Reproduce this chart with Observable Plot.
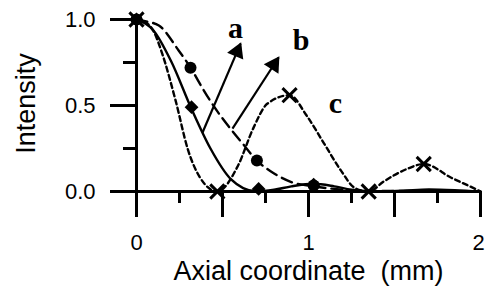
<!DOCTYPE html>
<html><head><meta charset="utf-8">
<script src="https://cdn.jsdelivr.net/npm/d3@7"></script>
<script src="https://cdn.jsdelivr.net/npm/@observablehq/plot@0.6"></script>
<style>
html,body{margin:0;padding:0;background:#fff}svg{display:block}
</style>
</head><body><div id="chart"></div>
<script>
// Curve a (long dashed, circles)
const aX = [0, 0.05, 0.13, 0.245, 0.314, 0.39, 0.44, 0.55, 0.62, 0.70, 0.80, 0.90, 1.03, 1.15, 1.30, 1.50, 1.75, 2.0];
const aY = [1, 0.99, 0.965, 0.82, 0.72, 0.59, 0.51, 0.36, 0.275, 0.18, 0.105, 0.055, 0.03, 0.015, 0.005, 0.003, 0.002, 0];
const aMarkX = [0, 0.314, 0.70, 1.03];
const aMarkY = [1, 0.72, 0.18, 0.035];
// Curve b (solid, diamonds)
const bX = [0, 0.1, 0.2, 0.32, 0.43, 0.55, 0.62, 0.70, 0.80, 0.90, 1.03, 1.15, 1.25, 1.40, 1.55, 1.70, 1.85, 2.0];
const bY = [1, 0.935, 0.76, 0.48, 0.25, 0.07, 0.02, 0.0, 0.01, 0.03, 0.045, 0.03, 0.01, 0.0, 0.005, 0.012, 0.008, 0];
const bMarkX = [0, 0.32, 0.71, 1.03];
const bMarkY = [1, 0.49, 0.015, 0.04];
// Curve c (short dashed, crosses)
const cX = [0, 0.05, 0.10, 0.15, 0.227, 0.30, 0.37, 0.47, 0.59, 0.68, 0.76, 0.89, 0.99, 1.09, 1.19, 1.27, 1.35, 1.44, 1.57, 1.67, 1.83, 1.98, 2.0];
const cY = [1, 0.985, 0.93, 0.80, 0.53, 0.24, 0.08, 0.0, 0.15, 0.37, 0.51, 0.56, 0.44, 0.28, 0.12, 0.02, 0.0, 0.06, 0.13, 0.16, 0.08, 0.01, 0];
const cMarkX = [0, 0.47, 0.89, 1.35, 1.67];
const cMarkY = [1, 0.0, 0.56, 0.0, 0.16];
// Arrows (data coordinates: start -> tip)
const arrowX1 = [0.384, 0.558];
const arrowY1 = [0.343, 0.366];
const arrowX2 = [0.605, 0.826];
const arrowY2 = [0.860, 0.779];
// Curve labels
const labelText = ["a", "b", "c"];
const labelX = [0.576, 0.957, 1.157];
const labelY = [0.951, 0.876, 0.515];
// Ticks
const yMajor = [0, 0.5, 1];
const yMinor = [0.25, 0.75];
const xMajor = [0, 0.5, 1, 1.5, 2];
const xMinor = [0.25, 0.75, 1.25, 1.75];
const xLabelsInner = [0, 1];
const xLabelsEdge = [2];

const rows = (xs, ys) => xs.map((x, i) => ({x, y: ys[i]}));
const arrows = arrowX1.map((x1, i) => {
  const dx = arrowX2[i] - x1, dy = arrowY2[i] - arrowY1[i];
  const L = Math.hypot(dx, dy);
  const off = 0.05;
  return {x1, y1: arrowY1[i], x2: arrowX2[i], y2: arrowY2[i],
    hx: arrowX2[i] - dx / L * off, hy: arrowY2[i] - dy / L * off,
    rot: 90 - Math.atan2(dy, dx) * 180 / Math.PI};
});
const labels = labelText.map((t, i) => ({t, x: labelX[i], y: labelY[i]}));

const sans = "'Liberation Sans', Arial, Helvetica, sans-serif";
const chart = Plot.plot({
  width: 485, height: 288,
  marginLeft: 136, marginRight: 5, marginTop: 19, marginBottom: 97,
  x: {domain: [0, 2], axis: null},
  y: {domain: [0, 1], axis: null},
  style: {fontFamily: sans, fontSize: "22px", color: "black", background: "white"},
  marks: [
    // ticks (outward)
    Plot.ruleY(yMajor, {y: d => d, x1: 0, x2: 0, insetLeft: -26, strokeWidth: 3, stroke: "black"}),
    Plot.ruleY(yMinor, {y: d => d, x1: 0, x2: 0, insetLeft: -13, strokeWidth: 3, stroke: "black"}),
    Plot.ruleX(xMajor, {x: d => d, y1: 0, y2: 0, insetBottom: -26, strokeWidth: 3, stroke: "black"}),
    Plot.ruleX(xMinor, {x: d => d, y1: 0, y2: 0, insetBottom: -12, strokeWidth: 3, stroke: "black"}),
    // tick labels
    Plot.text(yMajor, {x: 0, y: d => d, text: d => d3.format(".1f")(d), textAnchor: "end", lineAnchor: "middle", dx: -41, fontSize: 22, fill: "black"}),
    Plot.text(xLabelsInner, {x: d => d, y: 0, text: d => String(d), textAnchor: "middle", lineAnchor: "top", dy: 43, fontSize: 22, fill: "black"}),
    Plot.text(xLabelsEdge, {x: d => d, y: 0, text: d => String(d), textAnchor: "middle", lineAnchor: "top", dy: 43, dx: -2, fontSize: 22, fill: "black"}),
    // axis lines
    Plot.ruleX([0], {y1: 0, y2: 1, strokeWidth: 3}),
    Plot.ruleY([0], {x1: 0, x2: 2, strokeWidth: 3}),
    // axis titles
    Plot.text(["Axial coordinate \u00a0(mm)"], {frameAnchor: "bottom", textAnchor: "middle", dy: 80, lineAnchor: "middle", fontSize: 27, fontFamily: sans}),
    Plot.text(["Intensity"], {frameAnchor: "left", textAnchor: "middle", dx: -110, dy: -2, rotate: -90, lineAnchor: "middle", fontSize: 27, fontFamily: sans}),
    // curves
    Plot.line(rows(bX, bY), {x: "x", y: "y", curve: "monotone-x", stroke: "black", strokeWidth: 2.4}),
    Plot.line(rows(aX, aY), {x: "x", y: "y", curve: "monotone-x", stroke: "black", strokeWidth: 2.4, strokeDasharray: "11,6"}),
    Plot.line(rows(cX, cY), {x: "x", y: "y", curve: "monotone-x", stroke: "black", strokeWidth: 2.4, strokeDasharray: "5,3.5"}),
    // arrows
    Plot.link(arrows, {x1: "x1", y1: "y1", x2: "x2", y2: "y2", stroke: "black", strokeWidth: 2.2}),
    Plot.dot(arrows, {x: "hx", y: "hy", symbol: "triangle", r: 6.5, fill: "black", rotate: "rot", stroke: null}),
    // markers
    Plot.dot(rows(aMarkX, aMarkY), {x: "x", y: "y", symbol: "circle", r: 6, fill: "black"}),
    Plot.dot(rows(bMarkX, bMarkY), {x: "x", y: "y", symbol: "square", r: 5.5, rotate: 45, fill: "black"}),
    Plot.dot(rows(cMarkX, cMarkY), {x: "x", y: "y", symbol: "times", r: 6.5, stroke: "black", strokeWidth: 3}),
    // curve labels
    Plot.text(labels, {x: "x", y: "y", text: "t", fontSize: 30, fontWeight: "bold", fontFamily: "'Liberation Serif', 'Times New Roman', serif", lineAnchor: "middle", fill: "black"})
  ]
});
document.getElementById("chart").appendChild(chart);
</script>
</body></html>
